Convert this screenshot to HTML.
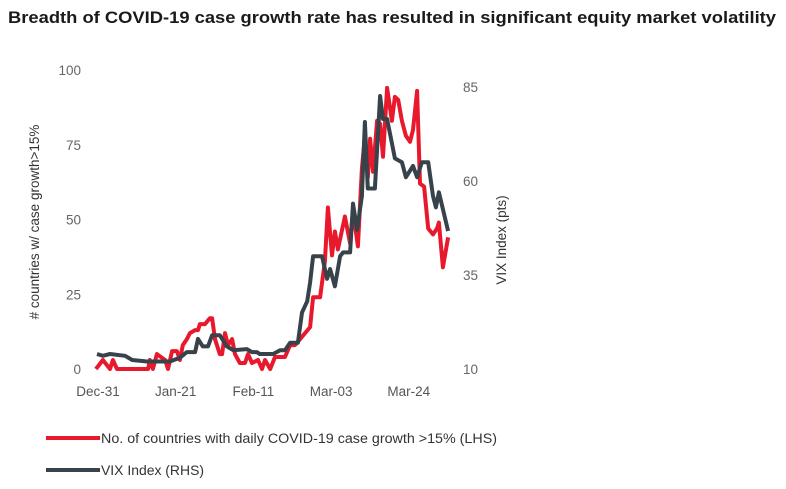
<!DOCTYPE html>
<html><head><meta charset="utf-8"><style>
html,body{margin:0;padding:0;background:#fff;width:786px;height:489px;overflow:hidden;font-family:"Liberation Sans",sans-serif}
</style></head><body>
<svg id="c" width="786" height="489" viewBox="0 0 786 489" xmlns="http://www.w3.org/2000/svg">
<text x="8" y="23" font-size="17" font-weight="bold" fill="#1a1a1a" textLength="768" lengthAdjust="spacingAndGlyphs">Breadth of COVID-19 case growth rate has resulted in significant equity market volatility</text>
<g id="axes"></g>
<g id="series"></g>
<g>
<line x1="46" y1="438" x2="100" y2="438" stroke="#e8192c" stroke-width="4"/>
<text x="101" y="443" font-size="13.5" fill="#333" textLength="396" lengthAdjust="spacingAndGlyphs">No. of countries with daily COVID-19 case growth &gt;15% (LHS)</text>
<line x1="46" y1="470" x2="100" y2="470" stroke="#37424b" stroke-width="4"/>
<text x="101" y="475" font-size="13.5" fill="#333" textLength="103" lengthAdjust="spacingAndGlyphs">VIX Index (RHS)</text>
</g>
</svg>
<script>
const xTickLabels=["Dec-31","Jan-21","Feb-11","Mar-03","Mar-24"];
const xTickDays=[0,21,42,63,84];
const leftTicks=[0,25,50,75,100];
const rightTicks=[10,35,60,85];
const redDays=[-0.3,1.6,3.5,4.3,5.4,13.8,14.3,15.1,16.2,18.4,19.2,20.3,21.6,22.4,23.2,24.3,25.1,26.5,27.3,27.8,29.2,30.5,31.1,31.9,33.2,33.8,34.6,35.4,36.5,37.3,38.6,40,40.8,41.9,43.5,44.6,45.4,46.8,48.1,50.8,52.2,53.5,54.9,57.6,58.4,60.3,61.6,62.4,63.5,64.3,65.1,67,68.4,69.2,70.5,71.6,72.4,73.2,73.8,74.6,75.7,76.5,77.3,78.4,79.7,80.5,81.4,82.4,83.5,84.6,85.4,86.5,87.3,88.4,89.5,90.8,91.9,92.4,93.5,94.9];
const redVals=[0,3,0,3,0,0,3,0,5,3,0,6,6,3,8,10,12,13,13,15,15,17,17,10,5,5,12,8,10,5,2,2,5,2,3,0,3,0,4,4,8,8,10,14,24,24,36,54,38,46,40,51,42,53,41,67,78,64,77,66,83,82,71,94,83,91,90,83,78,76,80,93,62,61,47,45,47,49,34,44];
const vixDays=[0,1.6,3.5,7.6,9.5,13.5,19.7,22.4,24.3,26.5,27.3,28.6,30,31.1,33.2,35.1,36.8,40.5,41.9,43.2,44,47.6,49.5,50.8,52.2,54.3,55.4,56.8,57.6,58.4,60.3,60.8,62.2,63,64.3,65.7,66.5,68.4,69.2,70.3,71.6,72.4,73.2,75.1,76.5,77.3,78.4,80.5,82.4,83.5,85.4,86.5,87.8,89.5,90.8,91.6,92.4,94.9];
const vixVals=[14,13.5,14,13.5,12.4,12,12,13,14.5,14.5,18,16,16,19,19,16,15,15.3,14.5,14.5,14,14,15,15,17,17,25,28,33,40,40,40,34,36.6,32,40,41,41,54,47,56,75.7,58,58,82.6,76.5,76.5,66,65,61,64,61,65,65,56,53,57,46.7];
const X0=97,XS=3.7;
const x=d=>X0+d*XS;
const yL=v=>369-v*2.99;
const yR=v=>369-(v-10)*3.76;
const NS="http://www.w3.org/2000/svg";
function mk(tag,attrs,parent,text){const e=document.createElementNS(NS,tag);for(const k in attrs)e.setAttribute(k,attrs[k]);if(text!==undefined)e.textContent=text;parent.appendChild(e);return e;}
const axes=document.getElementById('axes');
leftTicks.forEach(v=>{
 const t=mk('text',{x:81,y:yL(v)+5,'font-size':13.5,fill:'#666','text-anchor':'end'},axes,String(v));
 
 
});
rightTicks.forEach(v=>{
 const t=mk('text',{x:463,y:yR(v)+5,'font-size':13.5,fill:'#666'},axes,String(v));
 
 
});
xTickLabels.forEach((s,i)=>{
 const t=mk('text',{x:x(xTickDays[i])+1,y:396,'font-size':13.5,fill:'#555','text-anchor':'middle'},axes,s);
 
 
});
const lt=mk('text',{x:0,y:0,'font-size':13.5,fill:'#333','text-anchor':'middle',transform:'translate(39,222) rotate(-90)'},axes,'# countries w/ case growth>15%');


const rt=mk('text',{x:0,y:0,'font-size':13.5,fill:'#333','text-anchor':'middle',transform:'translate(506,240) rotate(-90)'},axes,'VIX  Index (pts)');


const series=document.getElementById('series');
const rp=redDays.map((d,i)=>x(d).toFixed(1)+','+yL(redVals[i]).toFixed(1)).join(' ');
const r=mk('polyline',{points:rp,fill:'none',stroke:'#e8192c','stroke-width':4,'stroke-linejoin':'round'},series);


const vp=vixDays.map((d,i)=>x(d).toFixed(1)+','+yR(vixVals[i]).toFixed(1)).join(' ');
const v=mk('polyline',{points:vp,fill:'none',stroke:'#37424b','stroke-width':4,'stroke-linejoin':'round'},series);


</script>
</body></html>
